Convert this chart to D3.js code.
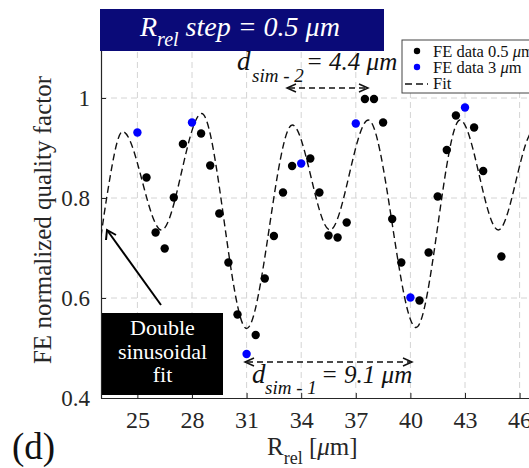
<!DOCTYPE html>
<html><head><meta charset="utf-8">
<script src="https://cdn.jsdelivr.net/npm/d3@7"></script>
<style>body{margin:0;background:#fff}svg{display:block}text{font-family:"Liberation Serif","Times New Roman",serif}</style>
</head><body><svg id="c" width="529" height="468"></svg>
<script>
const xTicks = [25, 28, 31, 34, 37, 40, 43, 46];
const yTicks = [0.4, 0.6, 0.8, 1];
const yTickLabels = ["0.4", "0.6", "0.8", "1"];
const blackX = [25.5,26,26.5,27,27.5,28.5,29,29.5,30,30.5,31.5,32,32.5,33,33.5,34.5,35,35.5,36,36.5,37.5,38,38.5,39,39.5,40.5,41,41.5,42,42.5,43.5,44,45];
const blackY = [0.841,0.731,0.699,0.801,0.908,0.929,0.865,0.769,0.671,0.567,0.526,0.639,0.724,0.811,0.864,0.879,0.811,0.725,0.721,0.751,0.998,0.998,0.951,0.758,0.671,0.595,0.691,0.803,0.896,0.965,0.941,0.854,0.683];
const blueX = [25, 28, 31, 34, 37, 40, 43];
const blueY = [0.931, 0.951, 0.488, 0.869, 0.949, 0.601, 0.981];
const fitX = [23.0, 23.31, 24.19, 26.33, 28.53, 31.0, 33.51, 35.58, 37.69, 40.31, 42.73, 44.83, 46.5, 47.3];
const fitY = [0.723, 0.80, 0.933, 0.736, 0.969, 0.539, 0.946, 0.736, 0.956, 0.541, 0.956, 0.736, 0.923, 0.97];
const legendLabels = ["FE data 0.5 \u03bcm", "FE data 3 \u03bcm", "Fit"];

const svg = d3.select("#c");
const L = 101, B = 398, T = 48;
const x = d3.scaleLinear().domain([23, 48]).range([L, L + 25 * 18.2]);
const y = d3.scaleLinear().domain([0.4, 1.1]).range([B, T]);
const ink = "#262626";

svg.append("defs").append("clipPath").attr("id", "pc")
  .append("rect").attr("x", L).attr("y", T).attr("width", 529 - L).attr("height", B - T);

// grid
const g = svg.append("g");
g.selectAll(".gx").data(xTicks).join("line")
  .attr("x1", d => x(d)).attr("x2", d => x(d)).attr("y1", B).attr("y2", T)
  .attr("stroke", "#d4d4d4").attr("stroke-dasharray", "6,4").attr("stroke-width", 1);
g.selectAll(".gy").data(yTicks.slice(1)).join("line")
  .attr("x1", L).attr("x2", 529).attr("y1", d => y(d)).attr("y2", d => y(d))
  .attr("stroke", "#d4d4d4").attr("stroke-dasharray", "6,4").attr("stroke-width", 1);

// axes
const xa = svg.append("g").attr("transform", `translate(0,${B})`)
  .call(d3.axisBottom(x).tickValues(xTicks).tickSizeInner(-5).tickSizeOuter(0).tickPadding(13));
const ya = svg.append("g").attr("transform", `translate(${L},0)`)
  .call(d3.axisLeft(y).tickValues(yTicks).tickFormat((d, i) => yTickLabels[i]).tickSizeInner(-5).tickSizeOuter(0).tickPadding(11));
[xa, ya].forEach(a => {
  a.select(".domain").attr("stroke", ink).attr("stroke-width", 1.2);
  a.selectAll(".tick line").attr("stroke", ink);
  a.selectAll("text").attr("fill", ink).style("font-family", '"Liberation Serif",serif');
});
xa.selectAll("text").style("font-size", "24px");
ya.selectAll("text").style("font-size", "23px");

// fit curve
const fitData = fitX.map((v, i) => [v, fitY[i]]);
svg.append("path").attr("clip-path", "url(#pc)")
  .attr("d", d3.line().x(d => x(d[0])).y(d => y(d[1])).curve(d3.curveMonotoneX)(fitData))
  .attr("fill", "none").attr("stroke", "#111").attr("stroke-width", 1.4).attr("stroke-dasharray", "7,4");

// points
svg.append("g").selectAll("circle").data(blackX.map((v, i) => [v, blackY[i]])).join("circle")
  .attr("cx", d => x(d[0])).attr("cy", d => y(d[1])).attr("r", 4.2).attr("fill", "#000");
svg.append("g").selectAll("circle").data(blueX.map((v, i) => [v, blueY[i]])).join("circle")
  .attr("cx", d => x(d[0])).attr("cy", d => y(d[1])).attr("r", 4.2).attr("fill", "#0000ff");

// double arrows (dashed)
function dArrow(x1, x2, yy) {
  const a = svg.append("g");
  a.append("line").attr("x1", x1 + 2).attr("x2", x2 - 2).attr("y1", yy).attr("y2", yy)
    .attr("stroke", "#111").attr("stroke-width", 1.4).attr("stroke-dasharray", "6,4");
  a.append("path").attr("d", `M${x1 + 9},${yy - 4}L${x1},${yy}L${x1 + 9},${yy + 4}`)
    .attr("fill", "none").attr("stroke", "#111").attr("stroke-width", 1.5);
  a.append("path").attr("d", `M${x2 - 9},${yy - 4}L${x2},${yy}L${x2 - 9},${yy + 4}`)
    .attr("fill", "none").attr("stroke", "#111").attr("stroke-width", 1.5);
}
dArrow(287, 368, 88);
dArrow(245, 412, 362);

function itext(xx, yy, s, fs) {
  return svg.append("text").attr("x", xx).attr("y", yy).text(s)
    .style("font-size", fs + "px").style("font-style", "italic").attr("fill", "#111");
}
itext(237, 70, "d", 27);
itext(252, 82, "sim - 2", 19);
itext(306, 70, "= 4.4 \u03bcm", 25);
itext(252, 383, "d", 27);
itext(265, 394, "sim - 1", 19);
itext(321, 383, "= 9.1 \u03bcm", 25);

// pointer arrow
svg.append("line").attr("x1", 161).attr("y1", 305).attr("x2", 107).attr("y2", 230)
  .attr("stroke", "#000").attr("stroke-width", 2);
svg.append("path").attr("d", "M106,240 L107,230 L116,235")
  .attr("fill", "none").attr("stroke", "#000").attr("stroke-width", 2);

// black box
svg.append("rect").attr("x", 102).attr("y", 313).attr("width", 121).attr("height", 82).attr("fill", "#000");
["Double", "sinusoidal", "fit"].forEach((s, i) => {
  svg.append("text").attr("x", 162.5).attr("y", 335 + i * 23.5).attr("text-anchor", "middle")
    .text(s).attr("fill", "#fff").style("font-size", "22px");
});

// legend
const lg = svg.append("g");
lg.append("rect").attr("x", 402).attr("y", 40).attr("width", 140).attr("height", 53)
  .attr("fill", "#fff").attr("stroke", "#444").attr("stroke-width", 1);
lg.append("circle").attr("cx", 417).attr("cy", 51).attr("r", 3.2).attr("fill", "#000");
lg.append("circle").attr("cx", 417).attr("cy", 67).attr("r", 3.2).attr("fill", "#0000ff");
lg.append("line").attr("x1", 405).attr("x2", 428).attr("y1", 84).attr("y2", 84)
  .attr("stroke", "#111").attr("stroke-width", 1.3).attr("stroke-dasharray", "7,4");
legendLabels.forEach((s, i) => {
  const t = lg.append("text").attr("x", 433).attr("y", 56.5 + i * 16.3).style("font-size", "16.5px").attr("fill", "#111");
  const m = s.indexOf("\u03bc");
  if (m >= 0) {
    t.append("tspan").text(s.slice(0, m));
    t.append("tspan").text("\u03bc").style("font-style", "italic");
    t.append("tspan").text(s.slice(m + 1));
  } else t.text(s);
});

// title box
svg.append("rect").attr("x", 100).attr("y", 9).attr("width", 284).attr("height", 42).attr("fill", "#0a0a78");
const tt = svg.append("text").attr("x", 140).attr("y", 36).attr("fill", "#fff")
  .style("font-style", "italic").style("font-size", "28px");
tt.append("tspan").text("R");
tt.append("tspan").text("rel").attr("dy", 10).style("font-size", "20px");
tt.append("tspan").text(" step = 0.5 \u03bcm").attr("dy", -10);

// axis labels
svg.append("text").attr("transform", "translate(51,220) rotate(-90)").attr("text-anchor", "middle")
  .text("FE normalized quality factor").attr("fill", ink).style("font-size", "25px");
const xl = svg.append("text").attr("x", 267).attr("y", 455).attr("fill", ink).style("font-size", "25px");
xl.append("tspan").text("R");
xl.append("tspan").text("rel").attr("dy", 9).style("font-size", "18px");
xl.append("tspan").text(" [").attr("dy", -9);
xl.append("tspan").text("\u03bc").style("font-style", "italic");
xl.append("tspan").text("m]");

svg.append("text").attr("x", 12).attr("y", 459).text("(d)").attr("fill", "#111").style("font-size", "37px");
</script></body></html>
